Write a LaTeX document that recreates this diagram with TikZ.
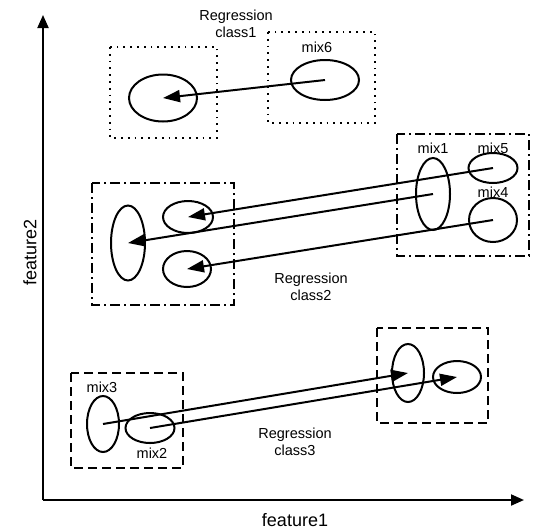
\documentclass[tikz,border=0pt]{standalone}
\usepackage{fontspec}
\setmainfont{Liberation Sans}
\usetikzlibrary{arrows.meta,shapes.geometric}
\begin{document}
\begin{tikzpicture}[x=1pt,y=-1pt,
  ell/.style={draw,ellipse,line width=2pt,inner sep=0pt},
  conn/.style={line width=2pt,-{Triangle[length=17pt,width=12pt]}},
  axis/.style={line width=2pt,-{Triangle[length=13pt,width=11pt]}},
  lbl/.style={font=\fontsize{14.5}{17}\selectfont,align=center,inner sep=0pt},
  axlbl/.style={font=\fontsize{18}{20}\selectfont,inner sep=0pt},
  dotbox/.style={line width=1.8pt,dash pattern=on 1.8pt off 5pt},
  dashdotbox/.style={line width=1.8pt,dash pattern=on 10pt off 4pt on 2pt off 4pt},
  dashbox/.style={line width=1.8pt,dash pattern=on 9pt off 5pt}]
\fill[white] (0,0) rectangle (534,531);
\useasboundingbox (0,0) rectangle (534,531);
% axes
\coordinate (O) at (43,500);
\coordinate (ytip) at (43,15);
\coordinate (xtip) at (524,500);
\draw[axis] (O) -- (ytip);
\draw[axis] (O) -- (xtip);
\node[axlbl] (f1) at (295,520) {feature1};
\node[axlbl,rotate=90] (f2) at (30,252) {feature2};
% group 1 (dotted)
\draw[dotbox] (110,47) rectangle (217,138);
\draw[dotbox] (268,32) rectangle (375,123);
\node[ell,minimum width=68,minimum height=47] (c1a) at (163,98) {};
\node[ell,minimum width=68,minimum height=40] (mix6) at (325,80) {};
\node[lbl] (l6) at (317,47) {mix6};
\node[lbl] (rc1) at (236,24) {Regression\\class1};
\draw[conn] (mix6.center) -- (c1a.center);
% group 2 (dash-dot)
\draw[dashdotbox] (92,183) rectangle (234,305);
\draw[dashdotbox] (397,134) rectangle (529,256);
\node[ell,minimum width=34,minimum height=75] (c2a) at (128,243) {};
\node[ell,minimum width=50,minimum height=32] (c2b) at (188,217) {};
\node[ell,minimum width=48,minimum height=36] (c2c) at (187,269) {};
\node[ell,minimum width=34,minimum height=72] (mix1) at (433,194) {};
\node[ell,minimum width=49,minimum height=30] (mix5) at (493,168) {};
\node[ell,minimum width=48,minimum height=44] (mix4) at (493,220) {};
\node[lbl] (l1) at (433,148) {mix1};
\node[lbl] (l5) at (493,148) {mix5};
\node[lbl] (l4) at (493,192) {mix4};
\node[lbl] (rc2) at (311,287) {Regression\\class2};
\draw[conn] (mix5.center) -- (c2b.center);
\draw[conn] (mix1.center) -- (c2a.center);
\draw[conn] (mix4.center) -- (c2c.center);
% group 3 (dashed)
\draw[dashbox] (71,373) rectangle (183,468);
\draw[dashbox] (377,328) rectangle (488,423);
\node[ell,minimum width=32,minimum height=56] (mix3) at (103,424) {};
\node[ell,minimum width=49,minimum height=30] (mix2) at (150,428) {};
\node[ell,minimum width=32,minimum height=58] (c3a) at (408,373) {};
\node[ell,minimum width=48,minimum height=32] (c3b) at (457,377) {};
\node[lbl] (l3) at (102,387) {mix3};
\node[lbl] (l2) at (152,453) {mix2};
\node[lbl] (rc3) at (295,442) {Regression\\class3};
\draw[conn] (mix3.center) -- (c3a.center);
\draw[conn] (mix2.center) -- (c3b.center);
\end{tikzpicture}
\end{document}
